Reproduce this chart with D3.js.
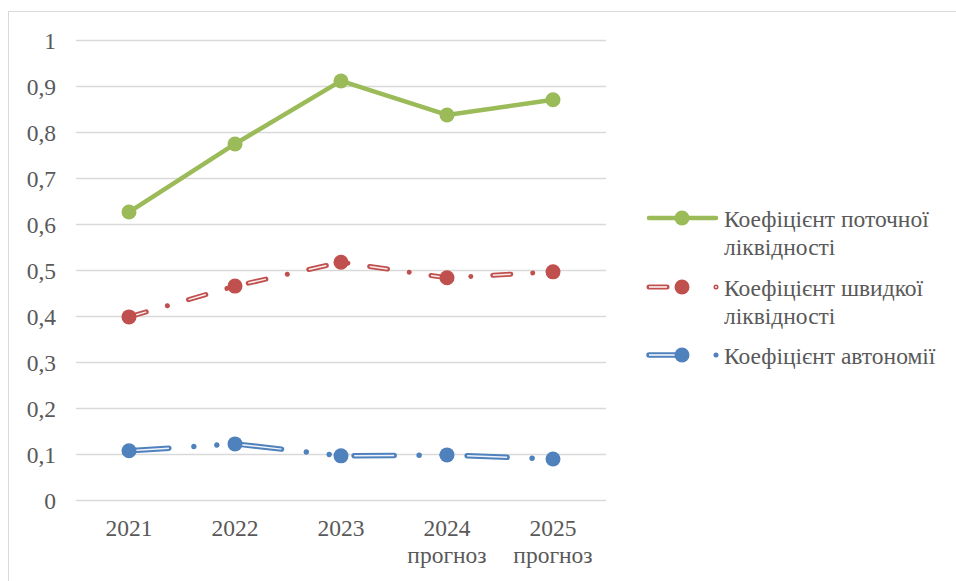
<!DOCTYPE html>
<html><head><meta charset="utf-8">
<script src="https://cdn.jsdelivr.net/npm/d3@7"></script>
</head><body style="margin:0;padding:0;background:#fff">
<svg id="chart" width="956" height="581" style="display:block"></svg>
<script>
const categories = ["2021", "2022", "2023", "2024", "2025"];
const categorySub = ["", "", "", "прогноз", "прогноз"];
const currentLiquidity = [0.626, 0.774, 0.911, 0.837, 0.870];
const quickLiquidity = [0.398, 0.465, 0.517, 0.483, 0.496];
const autonomy = [0.107, 0.122, 0.096, 0.098, 0.089];
const yTicks = [0, 0.1, 0.2, 0.3, 0.4, 0.5, 0.6, 0.7, 0.8, 0.9, 1];
const seriesNames = [["Коефіцієнт поточної", "ліквідності"], ["Коефіцієнт швидкої", "ліквідності"], ["Коефіцієнт автономії"]];

const FONT = '"Tinos"';
const svg = d3.select("#chart").style("font-family", FONT);
const textCol = "#595959";
const FS = 23.5;

svg.append("rect").attr("x", 8.5).attr("y", 11.5).attr("width", 1000).attr("height", 1000)
  .attr("fill", "none").attr("stroke", "#d9d9d9").attr("stroke-width", 1);

const x = d3.scaleBand().domain(categories).range([76, 606]);
const y = d3.scaleLinear().domain([0, 1]).range([500, 40]);

// gridlines
svg.append("g").selectAll("line").data(yTicks).join("line")
  .attr("x1", 76).attr("x2", 606)
  .attr("y1", d => Math.round(y(d)) + 0.5).attr("y2", d => Math.round(y(d)) + 0.5)
  .attr("stroke", "#d9d9d9").attr("stroke-width", 1.3);

// y axis labels
const yAxis = d3.axisLeft(y).tickValues(yTicks).tickSize(0).tickPadding(0)
  .tickFormat(d => d3.format("")(d).replace(".", ","));
const ya = svg.append("g").attr("transform", "translate(56,0)").call(yAxis);
ya.select(".domain").remove();
ya.attr("font-family", null).attr("font-size", FS).style("font-family", FONT);
ya.selectAll("text").attr("fill", textCol).attr("dy", "0.34em").style("font-family", FONT);

// x axis labels
const xAxis = d3.axisBottom(x).tickSize(0).tickPadding(0);
const xa = svg.append("g").attr("transform", "translate(0,536)").call(xAxis);
xa.select(".domain").remove();
xa.attr("font-family", null).attr("font-size", FS).style("font-family", FONT);
xa.selectAll("text").attr("fill", textCol).attr("dy", 0).attr("y", 0).style("font-family", FONT);
svg.append("g").selectAll("text").data(categories).join("text")
  .attr("x", d => x(d) + x.bandwidth() / 2).attr("y", 563)
  .attr("text-anchor", "middle").attr("font-size", FS).attr("fill", textCol).style("font-family", FONT)
  .text((d, i) => categorySub[i]);

const cx = d => x(d) + x.bandwidth() / 2;
const line = d3.line().x(d => cx(d.c)).y(d => y(d.v));
const toPts = vals => categories.map((c, i) => ({c, v: vals[i]}));

const green = "#9BBB59", red = "#C0504D", blue = "#4F81BD";
const redDash = "18,22,0.01,22";
const blueDash = "40,25,0.01,23,0.01,25";

function drawSeries(vals, col, kind) {
  const pts = toPts(vals);
  const g = svg.append("g");
  if (kind === "solid") {
    g.append("path").attr("d", line(pts)).attr("fill", "none").attr("stroke", col)
      .attr("stroke-width", 4.5).attr("stroke-linejoin", "round").attr("stroke-linecap", "round");
  } else {
    const dash = kind === "red" ? redDash : blueDash;
    const w = kind === "red" ? 5 : 5.5;
    g.append("path").attr("d", line(pts)).attr("fill", "none").attr("stroke", col)
      .attr("stroke-width", w).attr("stroke-dasharray", dash).attr("stroke-linecap", "round");
    g.append("path").attr("d", line(pts)).attr("fill", "none").attr("stroke", "#fff")
      .attr("stroke-width", 1.5).attr("stroke-dasharray", dash).attr("stroke-linecap", "butt").attr("opacity", 0.9);
  }
  g.selectAll("circle").data(pts).join("circle")
    .attr("cx", d => cx(d.c)).attr("cy", d => y(d.v)).attr("r", 7.5).attr("fill", col);
}
drawSeries(currentLiquidity, green, "solid");
drawSeries(quickLiquidity, red, "red");
drawSeries(autonomy, blue, "blue");

// legend
const legY = [218, 287, 355];
const legCols = [green, red, blue];
const legKinds = ["solid", "red", "blue"];
legY.forEach((ly, i) => {
  const g = svg.append("g");
  const col = legCols[i];
  if (legKinds[i] === "solid") {
    g.append("line").attr("x1", 649).attr("x2", 716).attr("y1", ly).attr("y2", ly)
      .attr("stroke", col).attr("stroke-width", 4.5).attr("stroke-linecap", "round");
  } else if (legKinds[i] === "red") {
    g.append("line").attr("x1", 649).attr("x2", 667).attr("y1", ly).attr("y2", ly)
      .attr("stroke", col).attr("stroke-width", 5).attr("stroke-linecap", "round");
    g.append("line").attr("x1", 649).attr("x2", 667).attr("y1", ly).attr("y2", ly)
      .attr("stroke", "#fff").attr("stroke-width", 1.5);
    g.append("circle").attr("cx", 716).attr("cy", ly).attr("r", 2.5).attr("fill", col);
    g.append("circle").attr("cx", 716).attr("cy", ly).attr("r", 0.9).attr("fill", "#fff");
  } else {
    g.append("line").attr("x1", 649).attr("x2", 680).attr("y1", ly).attr("y2", ly)
      .attr("stroke", col).attr("stroke-width", 5.5).attr("stroke-linecap", "round");
    g.append("line").attr("x1", 649).attr("x2", 680).attr("y1", ly).attr("y2", ly)
      .attr("stroke", "#fff").attr("stroke-width", 1.5);
    g.append("circle").attr("cx", 716).attr("cy", ly).attr("r", 2.5).attr("fill", col);
  }
  g.append("circle").attr("cx", 682).attr("cy", ly).attr("r", 7.5).attr("fill", col);
  const t = g.append("text").attr("x", 724).attr("y", ly)
    .attr("font-size", FS).attr("fill", textCol).style("font-family", FONT);
  seriesNames[i].forEach((s, k) => {
    t.append("tspan").attr("x", 724).attr("y", ly + 8.5 + k * 28).text(s);
  });
});
</script>
</body></html>
